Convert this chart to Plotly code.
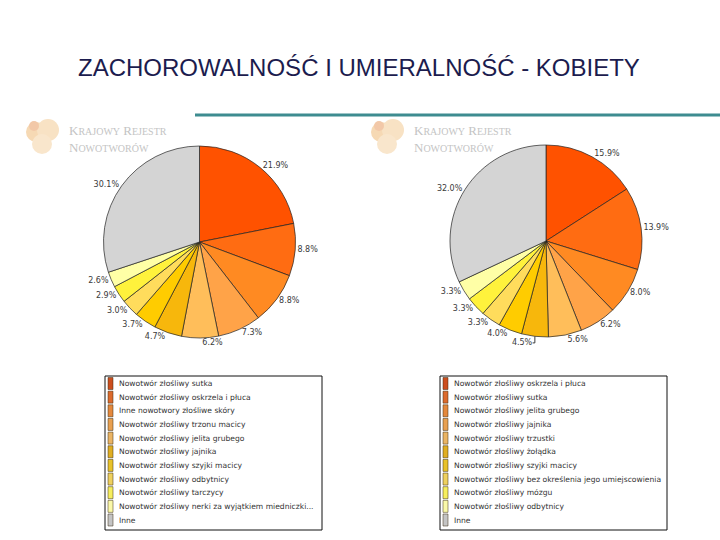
import plotly.graph_objects as go

W, H = 720, 540

title_text = "ZACHOROWALNOŚĆ I UMIERALNOŚĆ - KOBIETY"

inc_labels = [
    "Nowotwór złośliwy sutka",
    "Nowotwór złośliwy oskrzela i płuca",
    "Inne nowotwory złośliwe skóry",
    "Nowotwór złośliwy trzonu macicy",
    "Nowotwór złośliwy jelita grubego",
    "Nowotwór złośliwy jajnika",
    "Nowotwór złośliwy szyjki macicy",
    "Nowotwór złośliwy odbytnicy",
    "Nowotwór złośliwy tarczycy",
    "Nowotwór złośliwy nerki za wyjątkiem miedniczki...",
    "Inne",
]
inc_values = [21.9, 8.8, 8.8, 7.3, 6.2, 4.7, 3.7, 3.0, 2.9, 2.6, 30.1]

mort_labels = [
    "Nowotwór złośliwy oskrzela i płuca",
    "Nowotwór złośliwy sutka",
    "Nowotwór złośliwy jelita grubego",
    "Nowotwór złośliwy jajnika",
    "Nowotwór złośliwy trzustki",
    "Nowotwór złośliwy żołądka",
    "Nowotwór złośliwy szyjki macicy",
    "Nowotwór złośliwy bez określenia jego umiejscowienia",
    "Nowotwór złośliwy mózgu",
    "Nowotwór złośliwy odbytnicy",
    "Inne",
]
mort_values = [15.9, 13.9, 8.0, 6.2, 5.6, 4.5, 4.0, 3.3, 3.3, 3.3, 32.0]

slice_colors = ["#FF5200", "#FF6C12", "#FF8A22", "#FFA348", "#FFBE5A",
                "#F7B70C", "#FFCC00", "#FFDC5C", "#FFF23C", "#FFFFA6", "#D4D4D4"]
legend_colors = ["#CC4E1E", "#DC6A2C", "#E4883C", "#E8A050", "#EAB464",
                 "#E0AE22", "#E8C22A", "#EED05E", "#F6EE5E", "#FAF8A8", "#C4C4C4"]


def px(x):
    return x / W


def py(y):
    return 1 - y / H


def pie_domain(cx, cy, r):
    return dict(x=[px(cx - r), px(cx + r)], y=[py(cy + r), py(cy - r)])


fig = go.Figure()

for vals, labels, (cx, cy) in [(inc_values, inc_labels, (199.5, 242)),
                               (mort_values, mort_labels, (546, 241))]:
    fig.add_trace(go.Pie(
        values=vals,
        labels=labels,
        sort=False,
        direction="clockwise",
        rotation=0,
        domain=pie_domain(cx, cy, 96),
        marker=dict(colors=slice_colors, line=dict(color="#222222", width=0.7)),
        texttemplate="%{value:.1f}%",
        textposition="outside",
        outsidetextfont=dict(family="DejaVu Sans", size=8, color="#3A3A3A"),
        showlegend=False,
        hoverinfo="label+value",
    ))

shapes = []
annotations = []

# title
annotations.append(dict(
    x=px(359), y=py(68), xref="paper", yref="paper", text=title_text,
    showarrow=False, xanchor="center", yanchor="middle",
    font=dict(family="Liberation Sans", size=24, color="#1C1C4E")))

# teal rule
shapes.append(dict(type="line", xref="paper", yref="paper",
                   x0=px(195), x1=px(720), y0=py(115), y1=py(115),
                   line=dict(color="#3E8C90", width=3)))

# logos
for lx in (28, 373):
    for (dx, dy, rr, col) in [(8, 10, 10, "#F6D9B4"), (20, 8, 11, "#F8E2C4"),
                              (14, 22, 10, "#F9E6CC"), (6, 4, 5, "#F2C8A8")]:
        shapes.append(dict(type="circle", xref="paper", yref="paper",
                           x0=px(lx + dx - rr), x1=px(lx + dx + rr),
                           y0=py(122 + dy + rr), y1=py(122 + dy - rr),
                           fillcolor=col, line=dict(width=0), layer="below"))
    small = "font-size:10px"
    txt = ("K<span style='%s'>RAJOWY</span> R<span style='%s'>EJESTR</span><br>"
           "N<span style='%s'>OWOTWORÓW</span>") % (small, small, small)
    annotations.append(dict(
        x=px(lx + 39), y=py(139), xref="paper", yref="paper", text=txt,
        showarrow=False, xanchor="left", yanchor="middle", align="left",
        font=dict(family="Liberation Serif", size=13, color="#C4C4C4")))

# legends
for labels, (bx0, bx1) in [(inc_labels, (105, 322)), (mort_labels, (440, 667))]:
    shapes.append(dict(type="rect", xref="paper", yref="paper",
                       x0=px(bx0), x1=px(bx1), y0=py(530), y1=py(376),
                       line=dict(color="#111111", width=1), fillcolor="white"))
    for i, lab in enumerate(labels):
        yc = 383.5 + i * 13.65
        shapes.append(dict(type="rect", xref="paper", yref="paper",
                           x0=px(bx0 + 3), x1=px(bx0 + 8),
                           y0=py(yc + 6), y1=py(yc - 6),
                           fillcolor=legend_colors[i],
                           line=dict(color="#3A2A10", width=0.5)))
        annotations.append(dict(
            x=px(bx0 + 12), y=py(yc), xref="paper", yref="paper", text=lab,
            showarrow=False, xanchor="left", yanchor="middle",
            font=dict(family="DejaVu Sans", size=7.6, color="#333333")))

fig.update_layout(
    width=W, height=H,
    margin=dict(l=0, r=0, t=0, b=0),
    paper_bgcolor="white",
    plot_bgcolor="white",
    shapes=shapes,
    annotations=annotations,
)

fig.write_html("out.html")
